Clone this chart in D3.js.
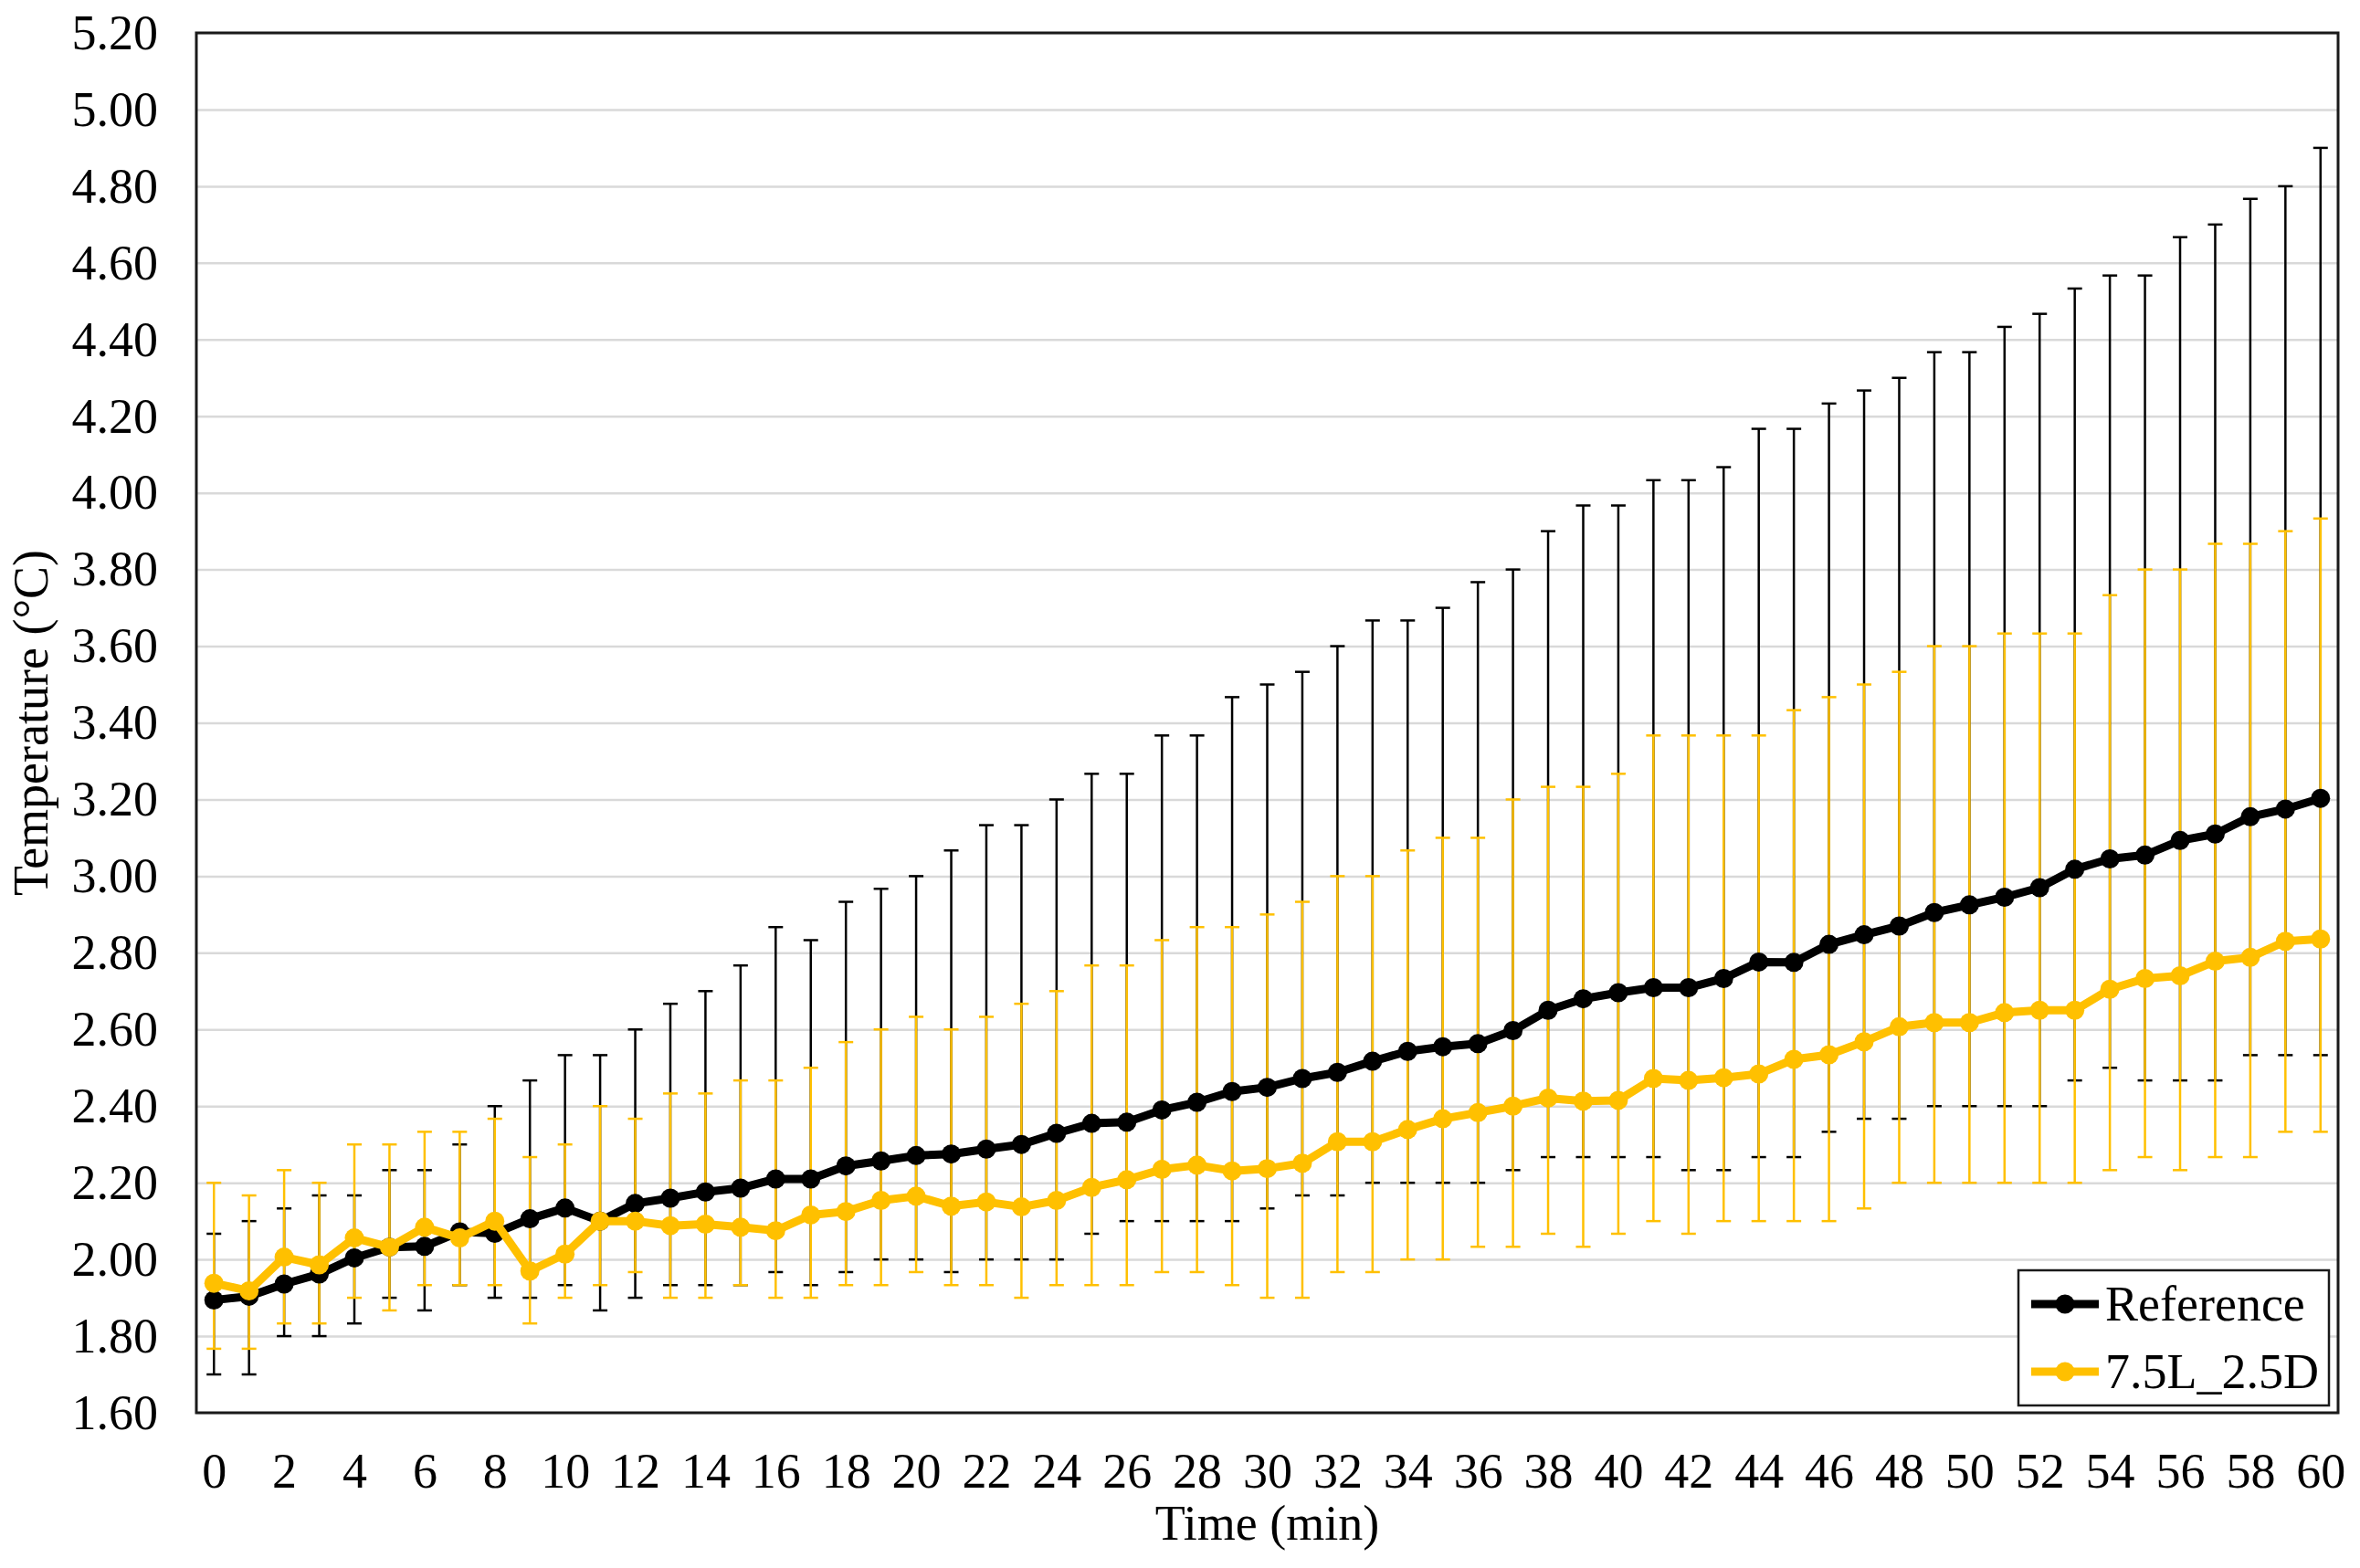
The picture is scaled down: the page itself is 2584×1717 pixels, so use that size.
<!DOCTYPE html>
<html>
<head>
<meta charset="utf-8">
<script src="https://cdn.jsdelivr.net/npm/d3@7"></script>
<style>
  body { margin: 0; background: #fff; }
  svg { display: block; }
  text { font-family: 'Liberation Serif', 'DejaVu Serif', serif; fill: #000; }
</style>
</head>
<body>
<div class="canvas"></div>
<script>
// data (minutes, °C)
const times = [0,1,2,3,4,5,6,7,8,9,10,11,12,13,14,15,16,17,18,19,20,21,22,23,24,25,26,27,28,29,30,
  31,32,33,34,35,36,37,38,39,40,41,42,43,44,45,46,47,48,49,50,51,52,53,54,55,56,57,58,59,60];
const xTickLabels = [0,2,4,6,8,10,12,14,16,18,20,22,24,26,28,30,32,34,36,38,40,42,44,46,48,50,52,54,56,58,60];
const yTickLabels = [1.6,1.8,2.0,2.2,2.4,2.6,2.8,3.0,3.2,3.4,3.6,3.8,4.0,4.2,4.4,4.6,4.8,5.0,5.2];

const refMean = [1.894,1.904,1.936,1.962,2.004,2.032,2.034,2.072,2.068,2.106,2.134,2.100,2.146,2.160,2.176,
  2.186,2.210,2.210,2.244,2.257,2.271,2.275,2.288,2.300,2.329,2.355,2.358,2.390,2.410,2.438,2.449,
  2.472,2.488,2.517,2.543,2.555,2.563,2.597,2.650,2.680,2.696,2.709,2.709,2.733,2.776,2.775,2.822,
  2.847,2.870,2.905,2.925,2.945,2.970,3.018,3.045,3.055,3.093,3.110,3.155,3.175,3.203];
const refHigh = [2.067,2.100,2.133,2.167,2.167,2.233,2.233,2.300,2.400,2.467,2.533,2.533,2.600,2.667,2.700,
  2.767,2.867,2.833,2.933,2.967,3.000,3.067,3.133,3.133,3.200,3.267,3.267,3.367,3.367,3.467,3.500,
  3.533,3.600,3.667,3.667,3.700,3.767,3.800,3.900,3.967,3.967,4.033,4.033,4.067,4.167,4.167,4.233,
  4.267,4.300,4.367,4.367,4.433,4.467,4.533,4.567,4.567,4.667,4.700,4.767,4.800,4.900];
const refLow = [1.700,1.700,1.800,1.800,1.833,1.900,1.867,1.933,1.900,1.900,1.933,1.867,1.900,1.933,1.933,
  1.933,1.967,1.933,1.967,2.000,2.000,1.967,2.000,2.000,2.000,2.067,2.100,2.100,2.100,2.100,2.133,
  2.167,2.167,2.200,2.200,2.200,2.200,2.233,2.267,2.267,2.267,2.267,2.233,2.233,2.267,2.267,2.333,
  2.367,2.367,2.400,2.400,2.400,2.400,2.467,2.500,2.467,2.467,2.467,2.533,2.533,2.533];

const ldMean = [1.938,1.918,2.006,1.986,2.056,2.032,2.084,2.056,2.100,1.970,2.014,2.100,2.100,2.088,2.092,
  2.084,2.075,2.116,2.125,2.154,2.165,2.139,2.150,2.137,2.154,2.188,2.208,2.235,2.246,2.231,2.237,
  2.251,2.307,2.307,2.339,2.367,2.383,2.400,2.421,2.413,2.415,2.472,2.467,2.474,2.484,2.522,2.534,
  2.568,2.607,2.618,2.618,2.644,2.650,2.650,2.705,2.733,2.740,2.778,2.788,2.830,2.836];
const ldHigh = [2.200,2.167,2.233,2.200,2.300,2.300,2.333,2.333,2.367,2.267,2.300,2.400,2.367,2.433,2.433,
  2.467,2.467,2.500,2.567,2.600,2.633,2.600,2.633,2.667,2.700,2.767,2.767,2.833,2.867,2.867,2.900,
  2.933,3.000,3.000,3.067,3.100,3.100,3.200,3.233,3.233,3.267,3.367,3.367,3.367,3.367,3.433,3.467,
  3.500,3.533,3.600,3.600,3.633,3.633,3.633,3.733,3.800,3.800,3.867,3.867,3.900,3.933];
const ldLow = [1.767,1.767,1.833,1.833,1.900,1.867,1.933,1.933,1.933,1.833,1.900,1.933,1.967,1.900,1.900,
  1.933,1.900,1.900,1.933,1.933,1.967,1.933,1.933,1.900,1.933,1.933,1.933,1.967,1.967,1.933,1.900,
  1.900,1.967,1.967,2.000,2.000,2.033,2.033,2.067,2.033,2.067,2.100,2.067,2.100,2.100,2.100,2.100,
  2.133,2.200,2.200,2.200,2.200,2.200,2.200,2.233,2.267,2.233,2.267,2.267,2.333,2.333];

const seriesNames = ['Reference', '7.5L_2.5D'];
const seriesColors = ['#000000', '#ffc000'];

const series = [
  { name: seriesNames[0], color: seriesColors[0], mean: refMean, low: refLow, high: refHigh },
  { name: seriesNames[1], color: seriesColors[1], mean: ldMean, low: ldLow, high: ldHigh }
];

const W = 2584, H = 1717;
const margins = { top: 36, right: 24, bottom: 170, left: 215 };
const graphWidth = W - margins.left - margins.right;
const graphHeight = H - margins.top - margins.bottom;

const svg = d3.select('.canvas')
  .append('svg')
  .attr('width', W)
  .attr('height', H);

const graph = svg.append('g')
  .attr('transform', `translate(${margins.left}, ${margins.top})`);

const x = d3.scalePoint()
  .domain(times)
  .range([0, graphWidth])
  .padding(0.5);

const y = d3.scaleLinear()
  .domain([1.6, 5.2])
  .range([graphHeight, 0]);

// gridlines
const grid = graph.append('g')
  .call(d3.axisLeft(y).tickValues(yTickLabels).tickSize(-graphWidth).tickFormat(''));
grid.select('.domain').remove();
grid.selectAll('line').attr('stroke', '#d9d9d9').attr('stroke-width', 2.5);

// axes
const yAxisGroup = graph.append('g')
  .call(d3.axisLeft(y).tickValues(yTickLabels).tickSize(0).tickPadding(42).tickFormat(d3.format('.2f')));
yAxisGroup.select('.domain').remove();
yAxisGroup.selectAll('text').attr('font-size', 54).attr('font-family', null);

const xAxisGroup = graph.append('g')
  .attr('transform', `translate(0, ${graphHeight})`)
  .call(d3.axisBottom(x).tickValues(xTickLabels).tickSize(0).tickPadding(44));
xAxisGroup.select('.domain').remove();
xAxisGroup.selectAll('text').attr('font-size', 54).attr('font-family', null);

// error bars
const cap = 8;
series.forEach(s => {
  const g = graph.append('g')
    .attr('stroke', s.color)
    .attr('stroke-width', 2.5);
  g.selectAll('line.bar')
    .data(times)
    .enter().append('line')
    .attr('class', 'bar')
    .attr('x1', d => x(d)).attr('x2', d => x(d))
    .attr('y1', (d, i) => y(s.low[i])).attr('y2', (d, i) => y(s.high[i]));
  g.selectAll('line.top')
    .data(times)
    .enter().append('line')
    .attr('class', 'top')
    .attr('x1', d => x(d) - cap).attr('x2', d => x(d) + cap)
    .attr('y1', (d, i) => y(s.high[i])).attr('y2', (d, i) => y(s.high[i]));
  g.selectAll('line.bot')
    .data(times)
    .enter().append('line')
    .attr('class', 'bot')
    .attr('x1', d => x(d) - cap).attr('x2', d => x(d) + cap)
    .attr('y1', (d, i) => y(s.low[i])).attr('y2', (d, i) => y(s.low[i]));
});

// lines + markers
const line = d3.line()
  .x((d, i) => x(times[i]))
  .y(d => y(d));

series.forEach(s => {
  graph.append('path')
    .datum(s.mean)
    .attr('fill', 'none')
    .attr('stroke', s.color)
    .attr('stroke-width', 9)
    .attr('stroke-linejoin', 'round')
    .attr('d', line);
  graph.append('g').selectAll('circle')
    .data(s.mean)
    .enter().append('circle')
    .attr('cx', (d, i) => x(times[i]))
    .attr('cy', d => y(d))
    .attr('r', 10.5)
    .attr('fill', s.color);
});

// plot border
graph.append('rect')
  .attr('width', graphWidth)
  .attr('height', graphHeight)
  .attr('fill', 'none')
  .attr('stroke', '#1a1a1a')
  .attr('stroke-width', 3);

// axis titles
svg.append('text')
  .attr('x', margins.left + graphWidth / 2)
  .attr('y', 1686)
  .attr('text-anchor', 'middle')
  .attr('font-size', 54)
  .text('Time (min)');

svg.append('text')
  .attr('transform', `translate(52, ${margins.top + graphHeight / 2}) rotate(-90)`)
  .attr('text-anchor', 'middle')
  .attr('font-size', 54)
  .text('Temperature (°C)');

// legend
const legW = 340, legH = 148;
const legend = graph.append('g')
  .attr('transform', `translate(${graphWidth - 10 - legW}, ${graphHeight - 8 - legH})`);
legend.append('rect')
  .attr('width', legW)
  .attr('height', legH)
  .attr('fill', '#fff')
  .attr('stroke', '#1a1a1a')
  .attr('stroke-width', 2.5);

series.forEach((s, i) => {
  const row = legend.append('g').attr('transform', `translate(0, ${37 + i * 74})`);
  row.append('line')
    .attr('x1', 14).attr('x2', 88)
    .attr('stroke', s.color)
    .attr('stroke-width', 9);
  row.append('circle')
    .attr('cx', 51)
    .attr('r', 10.5)
    .attr('fill', s.color);
  row.append('text')
    .attr('x', 95)
    .attr('dy', '0.33em')
    .attr('font-size', 54)
    .text(s.name);
});
</script>
</body>
</html>
